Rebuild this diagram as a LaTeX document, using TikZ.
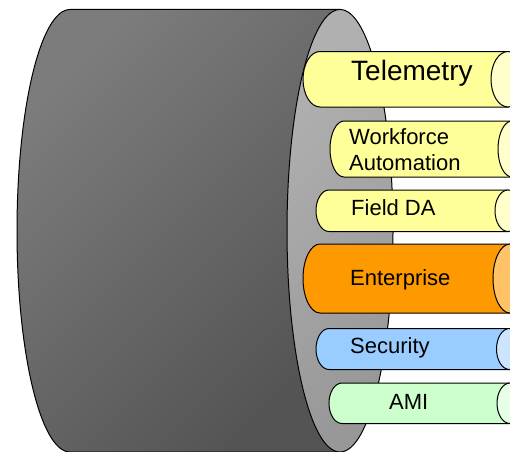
\documentclass[tikz,border=0pt]{standalone}
\usepackage{fontspec}
\setmainfont{Liberation Sans}
\definecolor{trunkA}{HTML}{7C7C7C}
\definecolor{trunkB}{HTML}{545454}
\definecolor{faceA}{HTML}{B0B0B0}
\definecolor{faceB}{HTML}{989898}
\definecolor{yelBody}{HTML}{FFFF99}
\definecolor{yelEnd}{HTML}{FFFFCC}
\definecolor{orgBody}{HTML}{FF9900}
\definecolor{orgEnd}{HTML}{FFC266}
\definecolor{bluBody}{HTML}{99CCFF}
\definecolor{bluEnd}{HTML}{CCE5FF}
\definecolor{grnBody}{HTML}{CCFFCC}
\definecolor{grnEnd}{HTML}{E6FFE6}
% #1 left cap centre x, #2 end face centre x, #3 axis y, #4 x radius, #5 y radius,
% #6 body colour, #7 end face colour
\newcommand\drawpipe[7]{%
  \path[outline, fill=#6] (#1,#3+#5) -- (#2,#3+#5) -- (#2,#3-#5) -- (#1,#3-#5)
    arc[start angle=270, end angle=90, x radius=#4, y radius=#5] -- cycle;
  \path[outline, fill=#7] (#2,#3) ellipse[x radius=#4, y radius=#5];}
\begin{document}
\begin{tikzpicture}[x=1pt, y=1pt,
  outline/.style={draw=black, line width=1pt},
  label/.style={anchor=base west, inner sep=0pt, font=\fontsize{22}{26}\selectfont},
  biglabel/.style={anchor=base west, inner sep=0pt, font=\fontsize{28}{31}\selectfont}]
\useasboundingbox (0,0) rectangle (510,451);
\clip (0,0) rectangle (510,451);
% main trunk
\path[outline, left color=trunkA, right color=trunkB, shading angle=45]
  (70,441.5) -- (340,441.5) -- (340,-1) -- (70,-1)
  arc[start angle=270, end angle=90, x radius=53, y radius=221.25] -- cycle;
% end face of the trunk
\path[outline, left color=faceA, right color=faceB, shading angle=45]
  (340,220.25) ellipse[x radius=53, y radius=221.25];
% branch pipes
\drawpipe{320}{508}{371.75}{17}{27.75}{yelBody}{yelEnd}
\drawpipe{344}{512}{302}{14}{28}{yelBody}{yelEnd}
\drawpipe{329}{508}{240.25}{13}{20.75}{yelBody}{yelEnd}
\drawpipe{320}{510}{172.5}{17}{34.5}{orgBody}{orgEnd}
\drawpipe{329}{509.5}{102}{13}{20.5}{bluBody}{bluEnd}
\drawpipe{342}{510}{47.75}{13}{20.25}{grnBody}{grnEnd}
% labels
\node[biglabel] (tel) at (351,371) {Telemetry};
\node[label] (wf1) at (349,307) {Workforce};
\node[label] (wf2) at (349,280.3) {Automation};
\node[label] (fda) at (351,235.5) {Field DA};
\node[label] (ent) at (350,166) {Enterprise};
\node[label] (sec) at (350,98) {Security};
\node[label] (ami) at (389,42) {AMI};
\end{tikzpicture}
\end{document}
